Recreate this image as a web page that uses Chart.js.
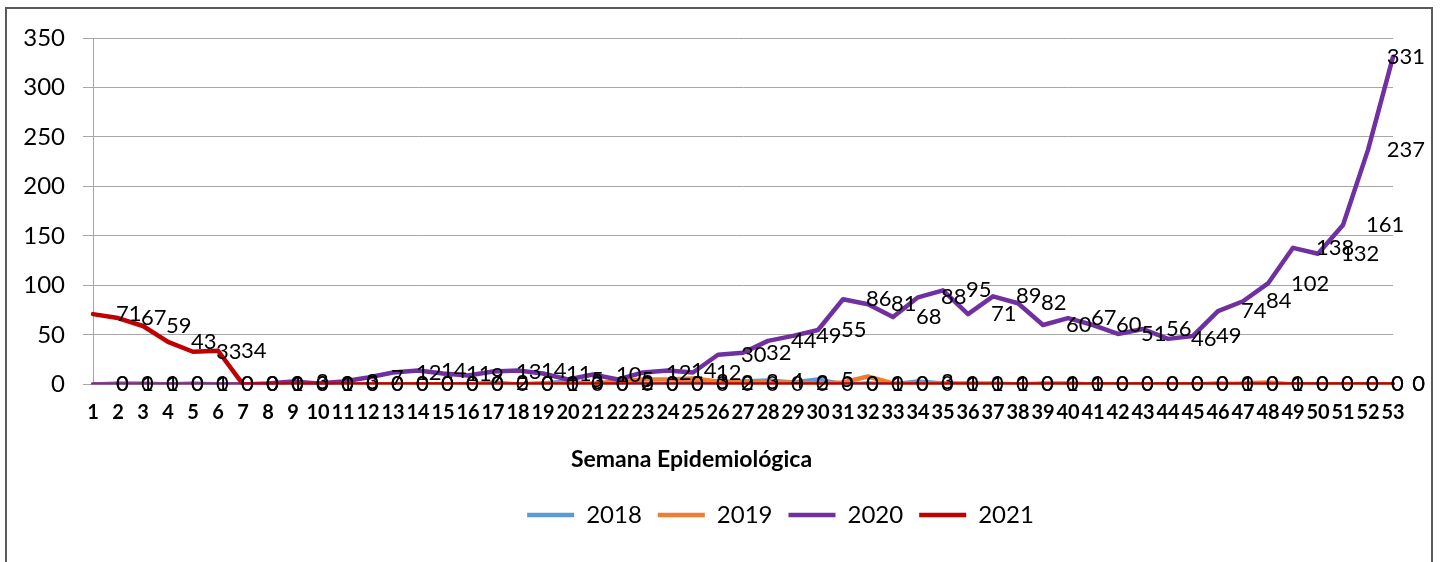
<!DOCTYPE html>
<html>
<head>
<meta charset="utf-8">
<script src="https://cdn.jsdelivr.net/npm/chart.js@4.4.0/dist/chart.umd.min.js"></script>
<style>
    html, body { margin: 0; padding: 0; background: #fff; }
    #frame {
        position: absolute; left: 5px; top: 7px;
        width: 1428px; height: 600px;
        border: 2px solid #5a5a5a; box-sizing: border-box;
    }
    #wrap { position: absolute; left: 0; top: 0; width: 1442px; height: 562px; }
</style>
</head>
<body>
<div id="frame"></div>
<div id="wrap"><canvas id="chart" width="1442" height="562"></canvas></div>
<script>
// Semanas epidemiológicas (eje X)
const weeks = ['1','2','3','4','5','6','7','8','9','10','11','12','13','14','15','16','17','18','19','20',
    '21','22','23','24','25','26','27','28','29','30','31','32','33','34','35','36','37','38','39','40',
    '41','42','43','44','45','46','47','48','49','50','51','52','53'];

const yTicks = [0, 50, 100, 150, 200, 250, 300, 350];

// Casos por semana
const cases2018 = [0,1,1,0,1,0,0,0,0,0, 0,0,0,0,0,0,2,0,1,3, 0,2,0,0,3,2,3,4,2,5,
    0,1,0,3,1,1,1,0,1,1, 0,0,0,0,0,1,0,1,0,0, 0,0,0];
const cases2019 = [0,0,0,0,0,0,0,0,0,0, 0,0,0,0,0,0,0,0,1,1, 1,3,5,5,6,3,2,2,2,1,
    2,8,1,1,1,0,0,0,0,0, 0,0,0,0,0,0,1,2,0,0, 0,0,0];
const cases2020 = [0,0,0,0,0,0,0,1,3,1, 3,7,12,14,11,9,13,14,11,5, 10,5,12,14,12,30,32,44,49,55,
    86,81,68,88,95,71,89,82,60,67, 60,51,56,46,49,74,84,102,138,132, 161,237,331];
const cases2021 = [71,67,59,43,33,34,0,0,0,0, 0,0,0,0,0,0,0,0,0,0, 0,0,0,0,0,0,0,0,0,0,
    0,0,0,0,0,0,0,0,0,0, 0,0,0,0,0,0,0,0,0,0, 0,0,0];

// series that carry value labels
const labelledSeries = ['2018', '2020', '2021'];

const FONT = 'Lato';

// value labels drawn to the right of each point (like Excel "Right" position)
const valueLabels = {
    id: 'valueLabels',
    afterDatasetsDraw(chart) {
        const c = chart.ctx;
        c.save();
        c.font = '22px ' + FONT;
        c.fillStyle = '#000';
        c.textAlign = 'left';
        c.textBaseline = 'middle';
        const limit = chart.width - 17;
        chart.data.datasets.forEach((ds, i) => {
            if (!labelledSeries.includes(ds.label)) return;
            chart.getDatasetMeta(i).data.forEach((pt, j) => {
                const txt = String(ds.data[j]);
                const w = c.measureText(txt).width;
                let x = pt.x + 23;
                if (x + w > limit) x = limit - w;
                c.fillText(txt, x, pt.y);
            });
        });
        c.restore();
    }
};

// nudge the title and legend horizontally to where they sit in the original
const nudgeBlocks = {
    id: 'nudgeBlocks',
    afterLayout(chart) {
        if (chart.legend) { chart.legend.left += 79; chart.legend.right += 79; }
        if (chart.titleBlock) { chart.titleBlock.left -= 10; chart.titleBlock.right -= 10; }
    }
};

function series(label, data, color, order) {
    return {
        label: label,
        data: data,
        borderColor: color,
        backgroundColor: color,
        borderWidth: 4.5,
        pointRadius: 0,
        tension: 0,
        fill: false,
        order: order,
        borderCapStyle: 'round',
        borderJoinStyle: 'round',
    };
}

const ctx = document.getElementById('chart').getContext('2d');
const chart = new Chart(ctx, {
    type: 'line',
    data: {
        labels: weeks,
        datasets: [
            series('2018', cases2018, '#5B9BD5', 4),
            series('2019', cases2019, '#ED7D31', 3),
            series('2020', cases2020, '#7030A0', 2),
            series('2021', cases2021, '#C00000', 1),
        ],
    },
    options: {
        responsive: false,
        animation: false,
        devicePixelRatio: 1,
        layout: { padding: { left: 10, right: 49, top: 38, bottom: 25 } },
        scales: {
            x: {
                offset: false,
                grid: { display: false, drawTicks: false },
                border: { display: true, color: '#a6a6a6' },
                ticks: {
                    autoSkip: false, maxRotation: 0, padding: 16, color: '#000',
                    font: { family: FONT, size: 20, weight: 'bold' },
                },
            },
            y: {
                min: 0,
                max: 350,
                afterBuildTicks(scale) { scale.ticks = yTicks.map(v => ({ value: v })); },
                afterFit(scale) { scale.width = 83; },
                grid: { color: '#a6a6a6', lineWidth: 1, tickLength: 10 },
                border: { color: '#a6a6a6' },
                ticks: { padding: 18, color: '#000', font: { family: FONT, size: 24 } },
            },
        },
        plugins: {
            tooltip: { enabled: false },
            title: {
                display: true,
                position: 'bottom',
                weight: 500,
                text: 'Semana Epidemiológica',
                color: '#000',
                font: { family: FONT, size: 23, weight: 'bold' },
                padding: { top: 5, bottom: 14 },
            },
            legend: {
                position: 'bottom',
                labels: {
                    usePointStyle: true,
                    pointStyle: 'line',
                    pointStyleWidth: 47,
                    padding: 16,
                    color: '#000',
                    font: { family: FONT, size: 24 },
                    sort: (a, b) => a.datasetIndex - b.datasetIndex,
                },
            },
        },
    },
    plugins: [valueLabels, nudgeBlocks],
});
</script>
</body>
</html>
